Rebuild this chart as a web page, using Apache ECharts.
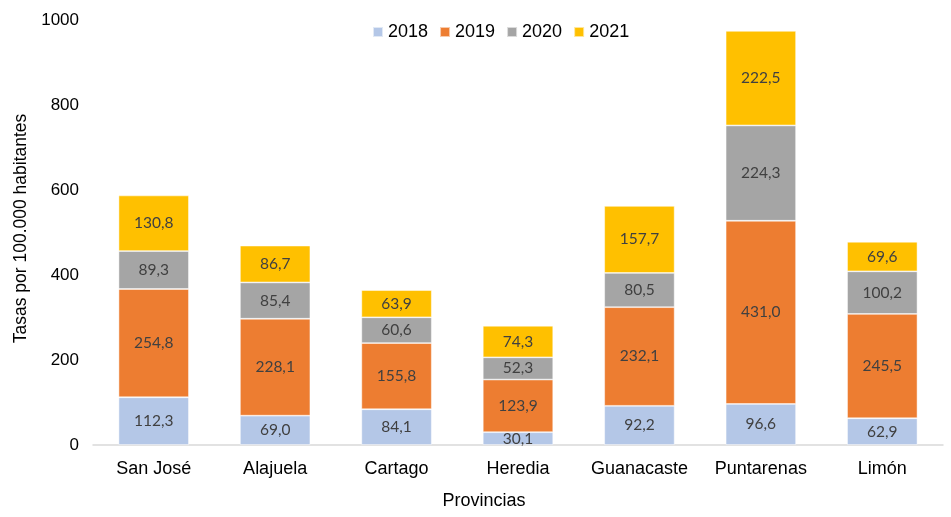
<!DOCTYPE html>
<html><head><meta charset="utf-8">
<script src="https://cdn.jsdelivr.net/npm/echarts@6/dist/echarts.min.js"></script>
<style>html,body{margin:0;padding:0;background:#fff}#c{width:951px;height:517px}</style>
</head><body><div id="c"></div>
<script>
const categories = ["San José","Alajuela","Cartago","Heredia","Guanacaste","Puntarenas","Limón"];
const seriesNames = ["2018","2019","2020","2021"];
const v2018 = [112.3, 69.0, 84.1, 30.1, 92.2, 96.6, 62.9];
const v2019 = [254.8, 228.1, 155.8, 123.9, 232.1, 431.0, 245.5];
const v2020 = [89.3, 85.4, 60.6, 52.3, 80.5, 224.3, 100.2];
const v2021 = [130.8, 86.7, 63.9, 74.3, 157.7, 222.5, 69.6];
const yTicks = [0, 200, 400, 600, 800, 1000];
const colors = ["#B4C7E7","#ED7D31","#A5A5A5","#FFC000"];
const values = [v2018, v2019, v2020, v2021];

const chart = echarts.init(document.getElementById('c'));
chart.setOption({
  animation:false,
  legend:{top:18,left:367,itemWidth:10,itemHeight:10,itemGap:11,icon:'rect',
    textStyle:{fontFamily:'Liberation Sans',fontSize:18,color:'#000'},data:seriesNames},
  grid:{left:93,right:8,top:20,bottom:72,containLabel:false,outerBoundsMode:'none'},
  xAxis:{type:'category',data:categories,
    axisLine:{lineStyle:{color:'#D9D9D9',width:1.5}},axisTick:{show:false},
    axisLabel:{fontFamily:'Liberation Sans',fontSize:18,color:'#000',margin:15,interval:0},
    name:'Provincias',nameLocation:'middle',nameGap:47,
    nameTextStyle:{fontFamily:'Liberation Sans',fontSize:18,color:'#000',padding:[0,68,0,0]}},
  yAxis:{type:'value',min:yTicks[0],max:yTicks[yTicks.length-1],interval:200,
    splitLine:{show:false},axisLine:{show:false},axisTick:{show:false},
    axisLabel:{fontFamily:'Liberation Sans',fontSize:17,color:'#000',margin:14,formatter:v=>String(v)},
    name:'Tasas por 100.000 habitantes',nameLocation:'middle',nameGap:63,
    nameTextStyle:{fontFamily:'Liberation Sans',fontSize:17.5,color:'#000',padding:[0,0,0,8]}},
  series: seriesNames.map((n,i)=>({
    name:n,type:'bar',stack:'total',barWidth:'58%',
    data:values[i],
    itemStyle:{color:colors[i],borderColor:'rgba(255,255,255,0.6)',borderWidth:0.8},
    label:{show:true,position:'inside',fontFamily:'Lato',fontSize:15.5,color:'#404040',
      formatter:p=>p.value.toFixed(1).replace('.',',')}
  }))
});
</script></body></html>
